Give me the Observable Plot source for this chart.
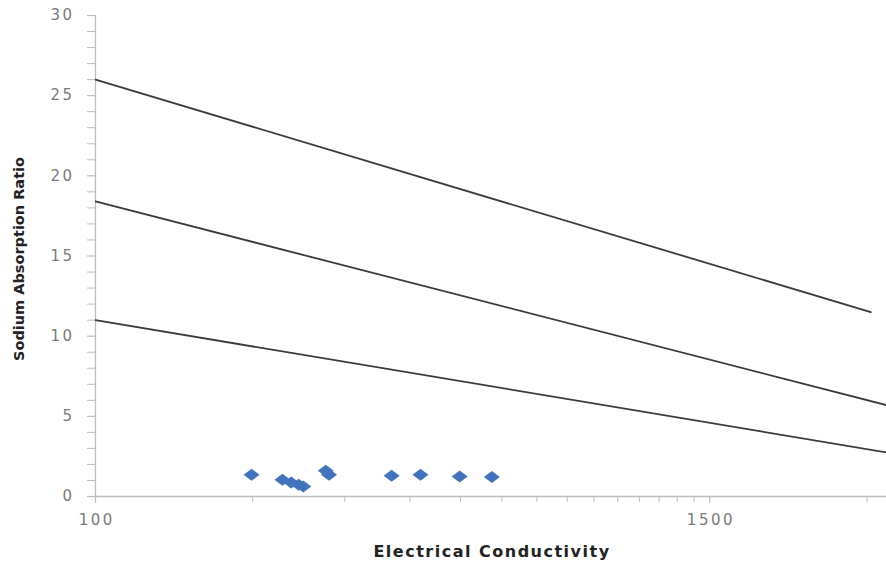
<!DOCTYPE html>
<html>
<head>
<meta charset="utf-8">
<script src="https://cdn.jsdelivr.net/npm/d3@7"></script>
<script src="https://cdn.jsdelivr.net/npm/@observablehq/plot@0.6"></script>
<style>
  html, body { margin: 0; padding: 0; background: #fff; }
  text[aria-label="tick-label"] { letter-spacing: 2.5px; }
  text[aria-label="x-title"] { letter-spacing: 1.5px; }
</style>
</head>
<body>
<div id="chart"></div>
<script>
// Sample points (EC, SAR)
const ecSamples  = [199, 228, 237, 245, 250, 276, 280, 369, 419, 498, 574];
const sarSamples = [1.36, 1.05, 0.88, 0.73, 0.63, 1.60, 1.35, 1.30, 1.36, 1.25, 1.21];

// Classification boundary lines
const ecLine1  = [100, 3050];
const sarLine1 = [26.0, 11.5];
const ecLine2  = [100, 3270];
const sarLine2 = [18.4, 5.7];
const ecLine3  = [100, 3270];
const sarLine3 = [11.0, 2.75];

// Axes
const xDomain = [100, 3270];
const yDomain = [0, 30];
const xMajorTicks = [100, 1500];
const xMinorTicks = [200, 300, 400, 500, 600, 700, 800, 900, 1000, 1100, 1200, 1300, 1400, 3000];
const yMajorTicks = [0, 5, 10, 15, 20, 25, 30];
const yMinorTicks = [1, 2, 3, 4, 6, 7, 8, 9, 11, 12, 13, 14, 16, 17, 18, 19, 21, 22, 23, 24, 26, 27, 28, 29];

const xTitle = "Electrical Conductivity";
const yTitle = "Sodium Absorption Ratio";

const samples = ecSamples.map((ec, i) => ({ec, sar: sarSamples[i]}));
const lines = [
  ...ecLine1.map((ec, i) => ({line: "a", ec, sar: sarLine1[i]})),
  ...ecLine2.map((ec, i) => ({line: "b", ec, sar: sarLine2[i]})),
  ...ecLine3.map((ec, i) => ({line: "c", ec, sar: sarLine3[i]}))
];

const wideDiamond = {
  draw(ctx, size) {
    const r = Math.sqrt(size / Math.PI);
    ctx.moveTo(-1.6 * r, 0);
    ctx.lineTo(0, -1.2 * r);
    ctx.lineTo(1.6 * r, 0);
    ctx.lineTo(0, 1.2 * r);
    ctx.closePath();
  }
};

const axisColor = "#bdbdbd";
const labelColor = "#7a7a7a";

const chart = Plot.plot({
  width: 886,
  height: 567,
  marginLeft: 95,
  marginRight: 0,
  marginTop: 15,
  marginBottom: 71,
  style: {fontFamily: "'DejaVu Sans', sans-serif", background: "#fff", overflow: "visible"},
  x: {type: "log", domain: xDomain, axis: null},
  y: {type: "linear", domain: yDomain, axis: null},
  marks: [
    // axis lines
    Plot.ruleY([0], {stroke: axisColor, strokeWidth: 1.3}),
    Plot.ruleX([xDomain[0]], {stroke: axisColor, strokeWidth: 1.3}),
    // x ticks
    Plot.ruleX(xMajorTicks, {x: d => d, y1: 0, y2: 0, insetBottom: -7, stroke: axisColor, strokeWidth: 1.2}),
    Plot.ruleX(xMinorTicks, {x: d => d, y1: 0, y2: 0, insetBottom: -6, stroke: axisColor, strokeWidth: 1}),
    // y ticks
    Plot.ruleY(yMajorTicks, {y: d => d, x1: xDomain[0], x2: xDomain[0], insetLeft: -8, stroke: axisColor, strokeWidth: 1.2}),
    Plot.ruleY(yMinorTicks, {y: d => d, x1: xDomain[0], x2: xDomain[0], insetLeft: -8, stroke: axisColor, strokeWidth: 1}),
    // tick labels
    Plot.text(xMajorTicks, {x: d => d, y: 0, text: d => String(d), dy: 24, dx: 1.2, fontSize: 15, fill: labelColor, ariaLabel: () => "tick-label"}),
    Plot.text(yMajorTicks, {x: xDomain[0], y: d => d, text: d => String(d), dx: -21, textAnchor: "end", fontSize: 15, fill: labelColor, ariaLabel: () => "tick-label"}),
    // boundary lines
    Plot.line(lines, {x: "ec", y: "sar", z: "line", stroke: "#3a3a3a", strokeWidth: 1.8, clip: true}),
    // samples
    Plot.dot(samples, {x: "ec", y: "sar", symbol: wideDiamond, r: 5, fill: "#4273bd", stroke: "none"}),
    // titles
    Plot.text([xTitle], {frameAnchor: "bottom", text: d => d, dy: 55, dx: 1, lineAnchor: "middle", textAnchor: "middle", fontSize: 16, fontWeight: "bold", fill: "#222", ariaLabel: () => "x-title"}),
    Plot.text([yTitle], {frameAnchor: "left", text: d => d, dx: -76, dy: 3, rotate: -90, lineAnchor: "middle", textAnchor: "middle", fontSize: 14.5, fontWeight: "bold", fill: "#222"})
  ]
});

document.getElementById("chart").appendChild(chart);
</script>
</body>
</html>
